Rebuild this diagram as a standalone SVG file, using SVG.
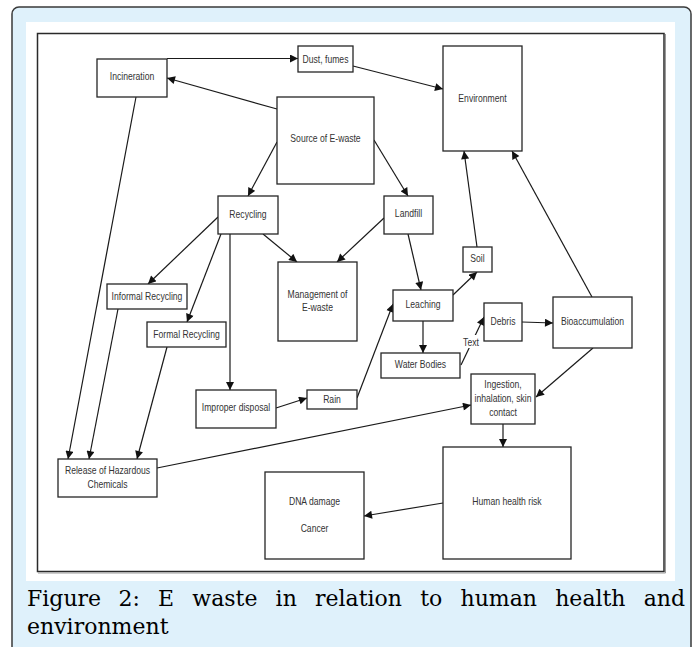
<svg xmlns="http://www.w3.org/2000/svg" width="694" height="647" viewBox="0 0 694 647">
<defs>
<style>
.box{fill:#fff;stroke:#262626;stroke-width:1.3}
.lbl{font-family:"Liberation Sans",Arial,sans-serif;font-size:10.5px;fill:#333;text-anchor:middle}
.con{fill:none;stroke:#1a1a1a;stroke-width:1.2}
.cap{font-family:"DejaVu Serif","Liberation Serif",serif;font-size:22px;fill:#000}
</style>
<marker id="ah" viewBox="0 0 10 10" refX="10" refY="5" markerWidth="9" markerHeight="8" markerUnits="userSpaceOnUse" orient="auto">
<path d="M0,0 L10,5 L0,10 Z" fill="#111"/>
</marker>
</defs>
<rect x="12" y="7" width="679" height="660" rx="7" fill="#dff1fb" stroke="#3a3a3a" stroke-width="1.5"/>
<rect x="26" y="22" width="649" height="559" fill="#fff"/>
<rect x="37.5" y="33.5" width="626.5" height="538" fill="none" stroke="#2a2a2a" stroke-width="1.5"/>
<line x1="665.5" y1="34" x2="665.5" y2="573" stroke="#999" stroke-width="1"/>
<line x1="38" y1="573" x2="665.5" y2="573" stroke="#999" stroke-width="1"/>

<g id="connectors">
<path class="con" marker-end="url(#ah)" d="M167,58.5 H298"/>
<path class="con" marker-end="url(#ah)" d="M353,66 L443,89"/>
<path class="con" marker-end="url(#ah)" d="M277,109 L167,78"/>
<path class="con" marker-end="url(#ah)" d="M277,142 L248,196"/>
<path class="con" marker-end="url(#ah)" d="M374,140 L408,196"/>
<path class="con" marker-end="url(#ah)" d="M263,234 L297,262"/>
<path class="con" marker-end="url(#ah)" d="M384,218 L337,262"/>
<path class="con" marker-end="url(#ah)" d="M218,217 L148,284"/>
<path class="con" marker-end="url(#ah)" d="M221,234 L187,322"/>
<path class="con" marker-end="url(#ah)" d="M230,234 V390"/>
<path class="con" marker-end="url(#ah)" d="M276,408 L307,398"/>
<path class="con" marker-end="url(#ah)" d="M357,398 L393,304"/>
<path class="con" marker-end="url(#ah)" d="M408,234 L421,290"/>
<path class="con" marker-end="url(#ah)" d="M453,295 L477,272"/>
<path class="con" marker-end="url(#ah)" d="M477,247 L464,151"/>
<path class="con" marker-end="url(#ah)" d="M592,297 L512,151"/>
<path class="con" marker-end="url(#ah)" d="M423,321 V353"/>
<path class="con" marker-end="url(#ah)" d="M461,365 L484,317"/>
<rect x="462" y="335" width="18" height="13" fill="#fff"/>
<text class="lbl" transform="translate(471,345.5) scale(0.82,1)">Text</text>
<path class="con" marker-end="url(#ah)" d="M522,322 L553,323"/>
<path class="con" marker-end="url(#ah)" d="M593,348 L536,397"/>
<path class="con" marker-end="url(#ah)" d="M157,468 L471,405"/>
<path class="con" marker-end="url(#ah)" d="M503,424 V447"/>
<path class="con" marker-end="url(#ah)" d="M443,503 L364,516"/>
<path class="con" marker-end="url(#ah)" d="M136,97 L68,459"/>
<path class="con" marker-end="url(#ah)" d="M118,309 L89,459"/>
<path class="con" marker-end="url(#ah)" d="M167,347 L137,459"/>
</g>

<g id="incineration"><rect class="box" x="97" y="59" width="70" height="38"/><text class="lbl" transform="translate(132,79.5) scale(0.82,1)">Incineration</text></g>
<g id="dust-fumes"><rect class="box" x="298" y="46" width="55" height="26"/><text class="lbl" transform="translate(325.5,62.5) scale(0.82,1)">Dust, fumes</text></g>
<g id="environment"><rect class="box" x="443" y="46" width="79" height="105"/><text class="lbl" transform="translate(482.5,101.5) scale(0.82,1)">Environment</text></g>
<g id="source"><rect class="box" x="277" y="97" width="97" height="87"/><text class="lbl" transform="translate(325.5,142) scale(0.82,1)">Source of E-waste</text></g>
<g id="recycling"><rect class="box" x="218" y="196" width="60" height="38"/><text class="lbl" transform="translate(248,217.5) scale(0.82,1)">Recycling</text></g>
<g id="landfill"><rect class="box" x="384" y="196" width="49" height="38"/><text class="lbl" transform="translate(408.5,216.5) scale(0.82,1)">Landfill</text></g>
<g id="management"><rect class="box" x="278" y="262" width="79" height="79"/><text class="lbl" transform="translate(317.5,297.5) scale(0.82,1)">Management of</text><text class="lbl" transform="translate(317.5,310.5) scale(0.82,1)">E-waste</text></g>
<g id="informal"><rect class="box" x="107" y="284" width="80" height="25"/><text class="lbl" transform="translate(147,300) scale(0.82,1)">Informal Recycling</text></g>
<g id="formal"><rect class="box" x="147" y="322" width="79" height="25"/><text class="lbl" transform="translate(186.5,337.5) scale(0.82,1)">Formal Recycling</text></g>
<g id="improper"><rect class="box" x="196" y="390" width="80" height="38"/><text class="lbl" transform="translate(236,410.5) scale(0.82,1)">Improper disposal</text></g>
<g id="rain"><rect class="box" x="307" y="390" width="50" height="19"/><text class="lbl" transform="translate(332,402.5) scale(0.82,1)">Rain</text></g>
<g id="leaching"><rect class="box" x="393" y="290" width="60" height="31"/><text class="lbl" transform="translate(423,307.5) scale(0.82,1)">Leaching</text></g>
<g id="soil"><rect class="box" x="463" y="247" width="29" height="25"/><text class="lbl" transform="translate(477.5,261.5) scale(0.82,1)">Soil</text></g>
<g id="water"><rect class="box" x="381" y="353" width="79" height="25"/><text class="lbl" transform="translate(420.5,367.5) scale(0.82,1)">Water Bodies</text></g>
<g id="debris"><rect class="box" x="484" y="303" width="38" height="38"/><text class="lbl" transform="translate(503,324.5) scale(0.82,1)">Debris</text></g>
<g id="bioaccumulation"><rect class="box" x="553" y="297" width="79" height="51"/><text class="lbl" transform="translate(592.5,324.5) scale(0.82,1)">Bioaccumulation</text></g>
<g id="ingestion"><rect class="box" x="471" y="374" width="64" height="50"/><text class="lbl" transform="translate(503,387.5) scale(0.82,1)">Ingestion,</text><text class="lbl" transform="translate(503,401.5) scale(0.82,1)">inhalation, skin</text><text class="lbl" transform="translate(503,415.5) scale(0.82,1)">contact</text></g>
<g id="release"><rect class="box" x="58" y="459" width="99" height="38"/><text class="lbl" transform="translate(107.5,473.5) scale(0.82,1)">Release of Hazardous</text><text class="lbl" transform="translate(107.5,487.5) scale(0.82,1)">Chemicals</text></g>
<g id="dna"><rect class="box" x="265" y="472" width="99" height="87"/><text class="lbl" transform="translate(314.5,504.5) scale(0.82,1)">DNA damage</text><text class="lbl" transform="translate(314.5,531.5) scale(0.82,1)">Cancer</text></g>
<g id="human-health"><rect class="box" x="443" y="447" width="128" height="112"/><text class="lbl" transform="translate(507,504.5) scale(0.82,1)">Human health risk</text></g>

<text class="cap" y="606"><tspan x="27">Figure</tspan><tspan x="118.4">2:</tspan><tspan x="158">E</tspan><tspan x="192.3">waste</tspan><tspan x="275.6">in</tspan><tspan x="315">relation</tspan><tspan x="420.2">to</tspan><tspan x="460.5">human</tspan><tspan x="555.2">health</tspan><tspan x="643.7">and</tspan></text>
<text class="cap" x="27" y="634">environment</text>
</svg>
